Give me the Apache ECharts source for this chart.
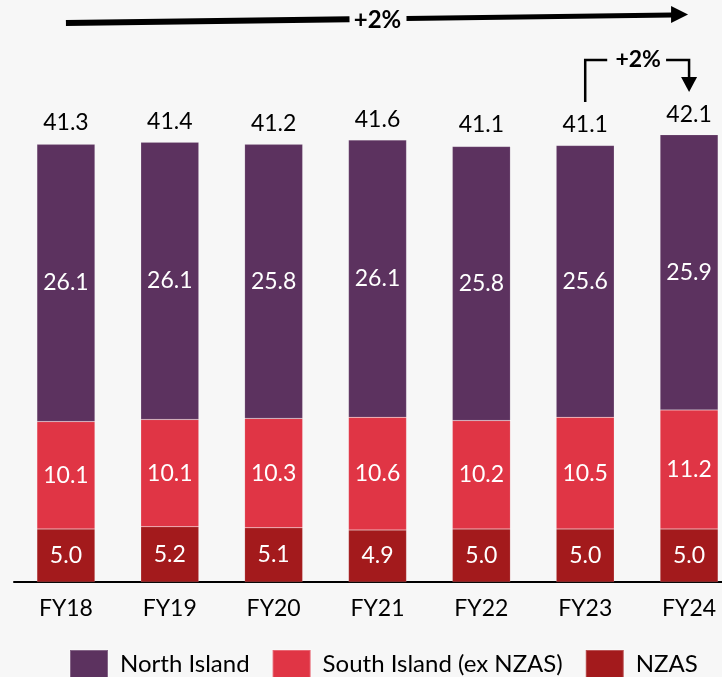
<!DOCTYPE html>
<html>
<head>
<meta charset="utf-8">
<script src="https://cdn.jsdelivr.net/npm/echarts@6/dist/echarts.min.js"></script>
<style>
  html, body { margin: 0; padding: 0; background: #f7f7f7; }
  #chart { width: 722px; height: 677px; }
</style>
</head>
<body>
<div id="chart"></div>
<script>
// generation by year (TWh)
const years = ['FY18', 'FY19', 'FY20', 'FY21', 'FY22', 'FY23', 'FY24'];
const northIsland = [26.1, 26.1, 25.8, 26.1, 25.8, 25.6, 25.9];
const southIsland = [10.1, 10.1, 10.3, 10.6, 10.2, 10.5, 11.2];
const nzas = [5.0, 5.2, 5.1, 4.9, 5.0, 5.0, 5.0];
const totals = [41.3, 41.4, 41.2, 41.6, 41.1, 41.1, 42.1];

const FONT = 'Lato, "Noto Sans", sans-serif';
const insideLabel = {
  show: true,
  position: 'inside',
  color: '#fff',
  fontSize: 23,
  fontFamily: FONT,
  formatter: p => p.value.toFixed(1)
};

const chart = echarts.init(document.getElementById('chart'));

chart.setOption({
  backgroundColor: '#f7f7f7',
  animation: false,
  grid: { left: 14, width: 727, top: 104, bottom: 95, outerBoundsMode: 'none' },
  legend: {
    left: 69,
    top: 649,
    padding: 0,
    icon: 'rect',
    itemWidth: 38,
    itemHeight: 28,
    itemGap: 22,
    textStyle: { fontSize: 24, fontFamily: FONT, color: '#000', padding: [0, 0, 0, 7] },
    data: ['North Island', 'South Island (ex NZAS)', 'NZAS']
  },
  xAxis: {
    type: 'category',
    data: years,
    axisLine: { lineStyle: { color: '#000', width: 2 } },
    axisTick: { show: false },
    axisLabel: { color: '#000', fontSize: 23, fontFamily: FONT, margin: 15 }
  },
  yAxis: {
    type: 'value',
    min: 0,
    max: 45,
    show: false,
    splitLine: { show: false }
  },
  series: [
    {
      name: 'Total',
      type: 'bar',
      data: totals,
      barWidth: 58,
      barGap: '-100%',
      z: 1,
      silent: true,
      itemStyle: { color: 'rgba(0,0,0,0)' },
      label: {
        show: true,
        position: 'top',
        distance: 9,
        color: '#000',
        fontSize: 23,
        fontFamily: FONT,
        formatter: p => p.value.toFixed(1)
      }
    },
    {
      name: 'NZAS',
      type: 'bar',
      stack: 'gen',
      data: nzas,
      barWidth: 58,
      z: 2,
      itemStyle: { color: '#a31a1c', borderColor: 'rgba(255,255,255,0.25)', borderWidth: 0.5 },
      label: insideLabel
    },
    {
      name: 'South Island (ex NZAS)',
      type: 'bar',
      stack: 'gen',
      data: southIsland,
      barWidth: 58,
      z: 2,
      itemStyle: { color: '#e03545', borderColor: 'rgba(255,255,255,0.25)', borderWidth: 0.5 },
      label: insideLabel
    },
    {
      name: 'North Island',
      type: 'bar',
      stack: 'gen',
      data: northIsland,
      barWidth: 58,
      z: 2,
      itemStyle: { color: '#5c325f', borderColor: 'rgba(255,255,255,0.25)', borderWidth: 0.5 },
      label: insideLabel
    }
  ]
});

// growth arrows, placed on the category centres
const xOf = i => chart.convertToPixel({ xAxisIndex: 0 }, years[i]);
const x0 = xOf(0), x3 = xOf(3), x5 = xOf(5), x6 = xOf(6);

const tipX = x6 - 1, baseX = tipX - 17;
const yAt = x => 23 + (x - x0) * (15 - 23) / (baseX - x0);
const gapL = x3 - 28, gapR = x3 + 29;

chart.setOption({
  graphic: [
    { type: 'line', shape: { x1: x0, y1: yAt(x0), x2: gapL, y2: yAt(gapL) },
      style: { stroke: '#000', lineWidth: 6 } },
    { type: 'line', shape: { x1: gapR, y1: yAt(gapR), x2: baseX + 1, y2: yAt(baseX) },
      style: { stroke: '#000', lineWidth: 5 } },
    { type: 'polygon', shape: { points: [[baseX, 6], [tipX, 14.5], [baseX, 23]] },
      style: { fill: '#000' } },
    { type: 'text', x: x3, y: 20,
      style: { text: '+2%', fill: '#000', font: 'bold 24px ' + FONT, align: 'center', verticalAlign: 'middle' } },

    { type: 'polyline', shape: { points: [[x5, 102], [x5, 60], [x5 + 22, 60]] },
      style: { stroke: '#000', lineWidth: 2.5, fill: null } },
    { type: 'text', x: (x5 + x6) / 2 + 1, y: 60,
      style: { text: '+2%', fill: '#000', font: 'bold 23px ' + FONT, align: 'center', verticalAlign: 'middle' } },
    { type: 'polyline', shape: { points: [[x6 - 23, 60], [x6, 60], [x6, 78]] },
      style: { stroke: '#000', lineWidth: 2.5, fill: null } },
    { type: 'polygon', shape: { points: [[x6 - 8, 77], [x6 + 8, 77], [x6, 92]] },
      style: { fill: '#000' } }
  ]
});
</script>
</body>
</html>
